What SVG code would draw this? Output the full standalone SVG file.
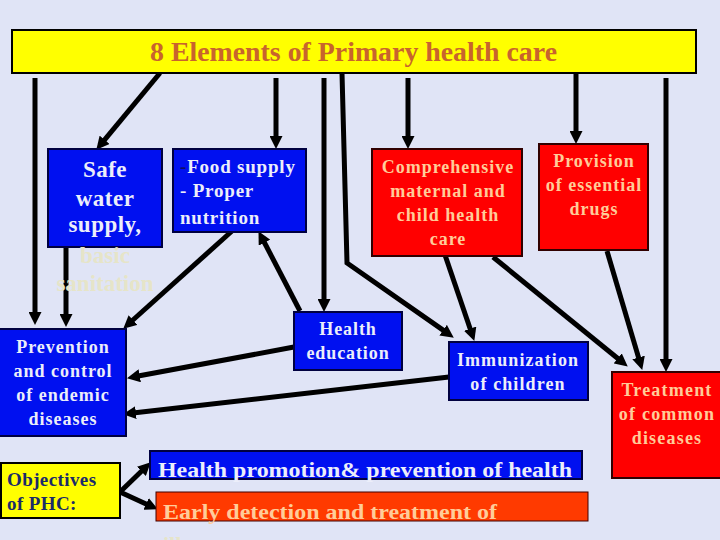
<svg xmlns="http://www.w3.org/2000/svg" width="720" height="540" viewBox="0 0 720 540">
<defs>
<marker id="ah" markerUnits="userSpaceOnUse" markerWidth="13" markerHeight="13" refX="3" refY="6.5" orient="auto">
<path d="M0,0 L13,6.5 L0,13 z" fill="#000"/>
</marker>
<style>
.t{font-family:"Liberation Serif","Times New Roman",serif;font-weight:bold;}
.blue{fill:#0010F0;stroke:#000040;stroke-width:2;}
.red{fill:#FF0000;stroke:#300000;stroke-width:2;}
.yel{fill:#FFFF00;stroke:#000;stroke-width:2;}
.wt{fill:#ECEEFA;}
.pt{fill:#FFCC99;}
.rb{font-size:18px;letter-spacing:1px;}
.bb{font-size:18px;letter-spacing:0.9px;}
.c{stroke:#000;stroke-width:5;fill:none;}
.a{marker-end:url(#ah);}
</style>
</defs>
<rect x="0" y="0" width="720" height="540" fill="#E0E4F6"/>

<g id="connectors">
<line class="c a" x1="160" y1="73" x2="102.7" y2="142.1"/>
<line class="c a" x1="35" y1="78" x2="35" y2="315"/>
<line class="c a" x1="66" y1="247" x2="66" y2="317"/>
<line class="c a" x1="232" y1="231" x2="130.7" y2="322"/>
<line class="c a" x1="276" y1="78" x2="276" y2="139"/>
<line class="c a" x1="324" y1="78" x2="324" y2="302"/>
<polyline class="c a" points="342,73 347,263 445.6,331.9"/>
<line class="c a" x1="408" y1="78" x2="408" y2="139"/>
<line class="c a" x1="576" y1="73" x2="576" y2="134"/>
<line class="c a" x1="666" y1="78" x2="666" y2="362"/>
<line class="c a" x1="300" y1="311" x2="263.1" y2="240"/>
<line class="c a" x1="294" y1="347" x2="136.8" y2="376.3"/>
<line class="c a" x1="449" y1="377" x2="132.9" y2="413"/>
<line class="c a" x1="445" y1="255" x2="471.1" y2="331.5"/>
<line class="c a" x1="493" y1="257" x2="620" y2="360.3"/>
<line class="c a" x1="607" y1="251" x2="639.4" y2="360.4"/>
<line class="c a" x1="120" y1="492" x2="143.5" y2="469.3"/>
<line class="c a" x1="120" y1="492" x2="148.8" y2="505.2"/>
</g>

<g id="title">
<rect class="yel" x="12" y="30" width="684" height="43"/>
<text class="t" x="150" y="61" font-size="27" fill="#C8642D" textLength="407" lengthAdjust="spacingAndGlyphs">8 Elements of Primary health care</text>
</g>

<g id="safe-water">
<rect class="blue" x="48" y="149" width="114" height="98"/>
<text class="t wt" font-size="23" letter-spacing="0.5" text-anchor="middle"><tspan x="105" y="177">Safe</tspan><tspan x="105" y="206">water</tspan><tspan x="105" y="232">supply,</tspan></text>
<text class="t" font-size="23" fill="#E6E4C8" text-anchor="middle"><tspan x="105" y="263">basic</tspan><tspan x="105" y="291">sanitation</tspan></text>
</g>

<g id="food-supply">
<rect class="blue" x="173" y="149" width="133" height="83"/>
<text class="t wt" font-size="19" letter-spacing="0.8"><tspan x="180" y="173"><tspan fill="#101060">-</tspan>Food supply</tspan><tspan x="180" y="197">- Proper</tspan><tspan x="180" y="224">nutrition</tspan></text>
</g>

<g id="comprehensive">
<rect class="red" x="372" y="149" width="150" height="107"/>
<text class="t pt rb" text-anchor="middle"><tspan x="448" y="173">Comprehensive</tspan><tspan x="448" y="197">maternal and</tspan><tspan x="448" y="221">child health</tspan><tspan x="448" y="245">care</tspan></text>
</g>

<g id="provision">
<rect class="red" x="539" y="144" width="109" height="106"/>
<text class="t pt rb" text-anchor="middle"><tspan x="594" y="167">Provision</tspan><tspan x="594" y="191">of essential</tspan><tspan x="594" y="215">drugs</tspan></text>
</g>

<g id="health-education">
<rect class="blue" x="294" y="312" width="108" height="58"/>
<text class="t wt bb" text-anchor="middle"><tspan x="348" y="335">Health</tspan><tspan x="348" y="359">education</tspan></text>
</g>

<g id="immunization">
<rect class="blue" x="449" y="342" width="139" height="58"/>
<text class="t wt" font-size="18" letter-spacing="1.1" text-anchor="middle"><tspan x="518" y="366">Immunization</tspan><tspan x="518" y="390">of children</tspan></text>
</g>

<g id="treatment">
<rect class="red" x="612" y="372" width="110" height="106"/>
<text class="t pt" font-size="18" letter-spacing="1.2" text-anchor="middle"><tspan x="667" y="396">Treatment</tspan><tspan x="667" y="420">of common</tspan><tspan x="667" y="444">diseases</tspan></text>
</g>

<g id="prevention">
<rect class="blue" x="-2" y="329" width="128" height="107"/>
<text class="t wt" font-size="18" letter-spacing="1" text-anchor="middle"><tspan x="63" y="353">Prevention</tspan><tspan x="63" y="377">and control</tspan><tspan x="63" y="401">of endemic</tspan><tspan x="63" y="425">diseases</tspan></text>
</g>

<g id="objectives">
<rect class="yel" x="1" y="463" width="119" height="55" stroke-width="1.5"/>
<text class="t" font-size="19" letter-spacing="0.4" fill="#1A2A6A"><tspan x="7" y="486">Objectives</tspan><tspan x="7" y="510">of PHC:</tspan></text>
</g>

<g id="health-promotion">
<rect class="blue" x="150" y="451" width="432" height="28" stroke-width="1"/>
<text class="t wt" x="158" y="477" font-size="22" textLength="414" lengthAdjust="spacingAndGlyphs">Health promotion&amp; prevention of health</text>
</g>

<g id="early-detection">
<rect x="156" y="492" width="432" height="29" fill="#FF3A00" stroke="#400000" stroke-width="1"/>
<text class="t pt" x="163" y="519" font-size="22" textLength="334" lengthAdjust="spacingAndGlyphs">Early detection and treatment of</text>
<text class="t" x="163" y="552" font-size="22" fill="#E6E4C8">illnesses</text>
</g>
</svg>
